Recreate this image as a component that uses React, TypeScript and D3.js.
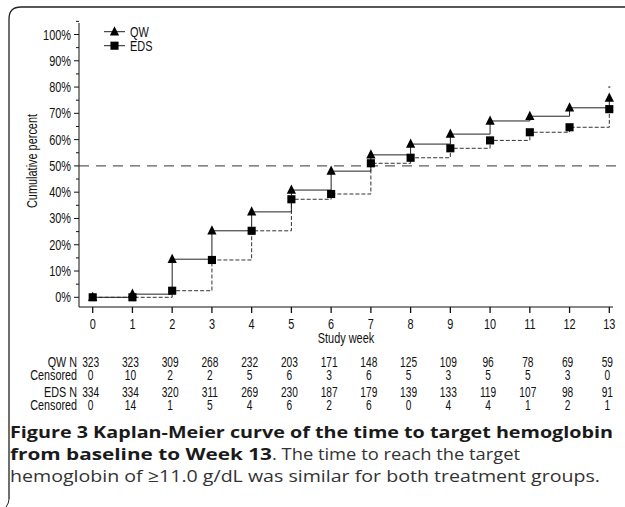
import React from "react";
import * as d3 from "d3";

const weeks = [0, 1, 2, 3, 4, 5, 6, 7, 8, 9, 10, 11, 12, 13];
const qwPct = [0, 1.2, 14.5, 25.3, 32.5, 40.8, 48.0, 54.2, 58.3, 62.1, 67.1, 68.9, 72.1, 75.8];
const edsPct = [0, 0, 2.5, 14.2, 25.3, 37.3, 39.3, 51.0, 53.1, 56.7, 59.7, 62.8, 64.7, 71.6];
const qwCensorMark = [{ week: 13, pct: 80 }];
const yTicks = [0, 10, 20, 30, 40, 50, 60, 70, 80, 90, 100];
const yMinorTicks = [5, 15, 25, 35, 45, 55, 65, 75, 85, 95, 105];
const qwN = [323, 323, 309, 268, 232, 203, 171, 148, 125, 109, 96, 78, 69, 59];
const qwCensored = [0, 10, 2, 2, 5, 6, 3, 6, 5, 3, 5, 5, 3, 0];
const edsN = [334, 334, 320, 311, 269, 230, 187, 179, 139, 133, 119, 107, 98, 91];
const edsCensored = [0, 14, 1, 5, 4, 6, 2, 6, 0, 4, 4, 1, 2, 1];
const referenceLine = 50;

const SANS = "'Liberation Sans', Arial, sans-serif";
const CAPTION = "'Open Sans', 'Noto Sans', sans-serif";

const x = d3.scaleLinear().domain([0, 13]).range([92.7, 609.3]);
const y = d3.scaleLinear().domain([0, 100]).range([297.3, 34.5]);

const triangleType = {
  draw(ctx: any, size: number) {
    const s = Math.sqrt(size);
    ctx.moveTo(0, -s * 0.6);
    ctx.lineTo(s * 0.5, s * 0.4);
    ctx.lineTo(-s * 0.5, s * 0.4);
    ctx.closePath();
  },
};
const triPath = d3.symbol().type(triangleType as any).size(85)() as string;
const sqPath = d3.symbol().type(d3.symbolSquare).size(66)() as string;

const stepLine = d3
  .line<number>()
  .x((_, i) => x(weeks[i]))
  .y((d) => y(d))
  .curve(d3.curveStepAfter);

function NText(props: {
  x: number;
  y: number;
  anchor?: string;
  size?: number;
  sx?: number;
  rotate?: number;
  children: any;
}) {
  const { x: px, y: py, anchor = "start", size = 14, sx = 0.78, rotate = 0, children } = props;
  return (
    <text
      transform={`translate(${px},${py}) rotate(${rotate}) scale(${sx},1)`}
      textAnchor={anchor}
      fontFamily={SANS}
      fontSize={size}
      fill="#111"
    >
      {children}
    </text>
  );
}

export default function App() {
  const tableRows = [
    { label: "QW N", vals: qwN, base: 367 },
    { label: "Censored", vals: qwCensored, base: 380 },
    { label: "EDS N", vals: edsN, base: 397 },
    { label: "Censored", vals: edsCensored, base: 410 },
  ];
  return (
    <svg
      width={625}
      height={507}
      style={{ position: "absolute", left: 0, top: 0, background: "#fff" }}
    >
      {/* frame */}
      <path d="M9,499 L9,19 Q9,7 21,7 L625,7" fill="none" stroke="#222" strokeWidth={1.3} />
      <path d="M9,499 Q9,503 6,507" fill="none" stroke="#222" strokeWidth={1} />

      {/* y axis */}
      <line x1={79} x2={79} y1={23} y2={307} stroke="#111" strokeWidth={1} />
      {yTicks.map((t) => (
        <g key={"yt" + t}>
          <line x1={74} x2={79} y1={y(t)} y2={y(t)} stroke="#111" />
          <NText x={71} y={y(t) + 5} anchor="end">
            {t}%
          </NText>
        </g>
      ))}
      {yMinorTicks.map((t) => (
        <line key={"ym" + t} x1={76} x2={79} y1={y(t)} y2={y(t)} stroke="#111" />
      ))}
      <NText x={37} y={161} anchor="middle" rotate={-90}>
        Cumulative percent
      </NText>

      {/* x axis */}
      <line x1={79} x2={613} y1={307} y2={307} stroke="#111" />
      {weeks.map((w) => (
        <g key={"xt" + w}>
          <line x1={x(w)} x2={x(w)} y1={307} y2={313} stroke="#111" strokeWidth={1.3} />
          <NText x={x(w)} y={329} anchor="middle">
            {w}
          </NText>
        </g>
      ))}
      <NText x={346} y={343} anchor="middle">
        Study week
      </NText>

      {/* 50% reference */}
      <line
        x1={79}
        x2={617}
        y1={y(referenceLine)}
        y2={y(referenceLine)}
        stroke="#333"
        strokeWidth={1}
        strokeDasharray="10,7"
      />

      {/* curves */}
      <path d={stepLine(edsPct) as string} fill="none" stroke="#333" strokeWidth={1} strokeDasharray="4,2" />
      <path d={stepLine(qwPct) as string} fill="none" stroke="#222" strokeWidth={1} />
      {qwPct.map((v, i) => (
        <path key={"tri" + i} d={triPath} transform={`translate(${x(weeks[i])},${y(v)})`} fill="#000" />
      ))}
      {edsPct.map((v, i) => (
        <path key={"sq" + i} d={sqPath} transform={`translate(${x(weeks[i])},${y(v)})`} fill="#000" />
      ))}
      {qwCensorMark.map((c, i) => (
        <line
          key={"cm" + i}
          x1={x(c.week) - 1}
          x2={x(c.week) + 1}
          y1={y(c.pct)}
          y2={y(c.pct)}
          stroke="#000"
        />
      ))}

      {/* legend */}
      <line x1={104} x2={125} y1={31.7} y2={31.7} stroke="#222" />
      <path d={triPath} transform="translate(114.5,31.7)" fill="#000" />
      <NText x={130} y={36.5}>QW</NText>
      <line x1={104} x2={125} y1={45.7} y2={45.7} stroke="#222" />
      <path d={sqPath} transform="translate(114.5,45.7)" fill="#000" />
      <NText x={130} y={50.5}>EDS</NText>

      {/* at-risk table */}
      {tableRows.map((r, ri) => (
        <g key={"row" + ri}>
          <NText x={77} y={r.base} anchor="end" size={15} sx={0.72}>
            {r.label}
          </NText>
          {r.vals.map((v, i) => (
            <NText key={i} x={x(weeks[i]) - 2} y={r.base} anchor="middle" size={15} sx={0.68}>
              {v}
            </NText>
          ))}
        </g>
      ))}

      {/* caption */}
      <text x={10} y={438} fontFamily={CAPTION} fontSize={16.5} fontWeight={700} fill="#1a1a1a" textLength={603} lengthAdjust="spacingAndGlyphs">
        Figure 3 Kaplan-Meier curve of the time to target hemoglobin
      </text>
      <text x={10} y={460} fontFamily={CAPTION} fontSize={16.5} fill="#333">
        <tspan fontWeight={700} fill="#1a1a1a" textLength={262} lengthAdjust="spacingAndGlyphs">
          from baseline to Week 13
        </tspan>
        <tspan fontWeight={400} fontSize={17} textLength={248} lengthAdjust="spacingAndGlyphs">
          . The time to reach the target
        </tspan>
      </text>
      <text x={10} y={482} fontFamily={CAPTION} fontSize={17} fontWeight={400} fill="#333" textLength={590} lengthAdjust="spacingAndGlyphs">
        hemoglobin of ≥11.0 g/dL was similar for both treatment groups.
      </text>
    </svg>
  );
}
